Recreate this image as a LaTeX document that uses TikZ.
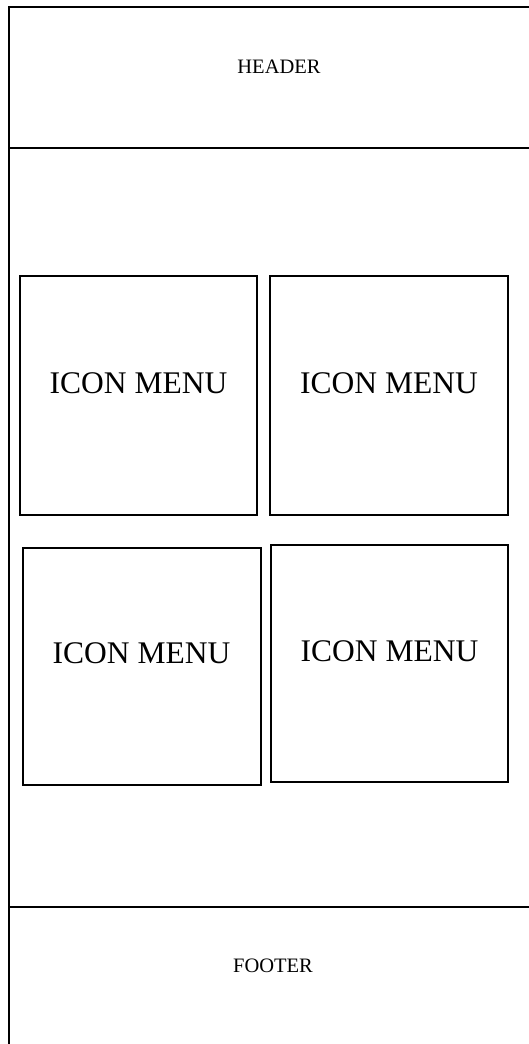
\documentclass[tikz,border=0pt]{standalone}
\usepackage{fontspec}
\setmainfont{Liberation Serif}
\tikzset{
  frame/.style={line width=2pt, line cap=rect},
  iconbox/.style={draw, line width=2pt, inner sep=0pt},
  iconlabel/.style={font=\fontsize{31.5}{34}\selectfont, inner sep=0pt},
  label/.style={font=\fontsize{20.5}{24}\selectfont, inner sep=0pt}
}
\begin{document}
\begin{tikzpicture}[x=1pt,y=-1pt]
\useasboundingbox (0,0) rectangle (529,1044);
\coordinate (tl) at (9,7);
\coordinate (tr) at (529,7);
\coordinate (bl) at (9,1044);
\coordinate (hl) at (9,148);
\coordinate (hr) at (529,148);
\coordinate (fl) at (9,907);
\coordinate (fr) at (529,907);
\draw[frame] (bl) -- (tl) -- (tr);
\draw[frame] (hl) -- (hr);
\draw[frame] (fl) -- (fr);
\node[label] (header) at (279,67) {HEADER};
\node[label] (footer) at (273,966) {FOOTER};
\node[iconbox, minimum width=237pt, minimum height=239pt] (m1) at (138.5,395.5) {};
\node[iconbox, minimum width=238pt, minimum height=239pt] (m2) at (389,395.5) {};
\node[iconbox, minimum width=238pt, minimum height=237pt] (m3) at (141.5,666.5) {};
\node[iconbox, minimum width=237pt, minimum height=237pt] (m4) at (389.5,663.5) {};
\node[iconlabel] (t1) at ([yshift=12pt]m1.center) {ICON MENU};
\node[iconlabel] (t2) at ([yshift=12pt]m2.center) {ICON MENU};
\node[iconlabel] (t3) at ([yshift=13pt]m3.center) {ICON MENU};
\node[iconlabel] (t4) at ([yshift=12pt]m4.center) {ICON MENU};
\end{tikzpicture}
\end{document}
